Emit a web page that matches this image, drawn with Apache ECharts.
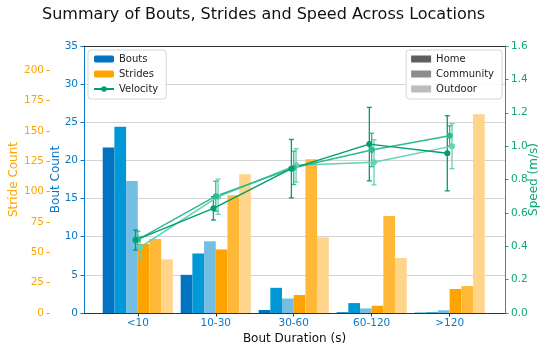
<!DOCTYPE html>
<html><head><meta charset="utf-8">
<script src="https://cdn.jsdelivr.net/npm/echarts@6/dist/echarts.min.js"></script>
<style>html,body{margin:0;padding:0;background:#fff}#c{width:550px;height:356px}</style>
</head><body><div id="c"></div>
<script>
const categories = ['<10', '10-30', '30-60', '60-120', '>120'];
const boutsHome = [21.7, 5.0, 0.4, 0.1, 0.05];
const boutsCommunity = [24.4, 7.8, 3.3, 1.3, 0.1];
const boutsOutdoor = [17.3, 9.4, 1.9, 0.6, 0.35];
const stridesHome = [56.8, 52.4, 14.8, 6, 19.8];
const stridesCommunity = [60.9, 97.1, 126.7, 80, 22.2];
const stridesOutdoor = [44.2, 114.4, 62.3, 45.3, 163.8];
const speedHome = [0.437, 0.627, 0.865, 1.012, 0.957];
const speedHomeErr = [0.06, 0.07, 0.175, 0.22, 0.225];
const speedCommunity = [0.44, 0.70, 0.87, 0.977, 1.062];
const speedCommunityErr = [0.05, 0.09, 0.1, 0.1, 0.06];
const speedOutdoor = [0.394, 0.697, 0.885, 0.903, 1.0];
const speedOutdoorErr = [0.065, 0.105, 0.1, 0.135, 0.135];
const boutTicks = [0, 5, 10, 15, 20, 25, 30, 35];
const strideTicks = [0, 25, 50, 75, 100, 125, 150, 175, 200];
const speedTicks = [0, 0.2, 0.4, 0.6, 0.8, 1.0, 1.2, 1.4, 1.6];

const FONT = 'DejaVu Sans';
const C_BOUT = '#0A78C2', C_STRIDE = '#FFA500', C_SPEED = '#0FA67A';
const BW = 0.15;

function barSeries(name, vals, offset, color, yIdx) {
  return {
    type: 'custom', name: name, xAxisIndex: 0, yAxisIndex: yIdx, z: 2,
    data: vals.map((v, i) => [i, v]),
    renderItem: function (params, api) {
      const x = api.value(0) + offset;
      const p0 = api.coord([x - BW / 2, api.value(1)]);
      const p1 = api.coord([x + BW / 2, 0]);
      return { type: 'rect', shape: { x: p0[0], y: p0[1], width: p1[0] - p0[0], height: p1[1] - p0[1] },
        style: { fill: color } };
    }
  };
}
function lineSeries(vals, offset, color) {
  return {
    type: 'line', xAxisIndex: 0, yAxisIndex: 2, z: 5,
    data: vals.map((v, i) => [i + offset, v]),
    symbol: 'circle', symbolSize: 6, showSymbol: true,
    lineStyle: { color: color, width: 1.5 }, itemStyle: { color: color },
    silent: true, animation: false
  };
}
function errSeries(vals, errs, offset, color) {
  return {
    type: 'custom', xAxisIndex: 0, yAxisIndex: 2, z: 4,
    data: vals.map((v, i) => [i + offset, v, errs[i]]),
    renderItem: function (params, api) {
      const x = api.value(0), m = api.value(1), e = api.value(2);
      const top = api.coord([x, m + e]), bot = api.coord([x, m - e]);
      const cw = 2.5;
      const st = { stroke: color, lineWidth: 1.3 };
      return { type: 'group', children: [
        { type: 'line', shape: { x1: top[0], y1: top[1], x2: bot[0], y2: bot[1] }, style: st },
        { type: 'line', shape: { x1: top[0] - cw, y1: top[1], x2: top[0] + cw, y2: top[1] }, style: st },
        { type: 'line', shape: { x1: bot[0] - cw, y1: bot[1], x2: bot[0] + cw, y2: bot[1] }, style: st }
      ]};
    }
  };
}

const chart = echarts.init(document.getElementById('c'), null, { renderer: 'canvas' });
const option = {
  animation: false,
  textStyle: { fontFamily: FONT },
  title: { text: 'Summary of Bouts, Strides and Speed Across Locations', left: 37, top: 2,
    textStyle: { fontFamily: FONT, fontSize: 16, fontWeight: 'normal', color: '#111' } },
  grid: { left: 84, right: 45, top: 46, bottom: 43, outerBoundsMode: 'none', containLabel: false },
  legend: [
    { data: ['Bouts', 'Strides', 'Velocity'], orient: 'vertical', left: 88, top: 50,
      selectedMode: false, itemWidth: 20, itemHeight: 7, itemGap: 3,
      padding: [3, 8, 4, 5], borderColor: '#d5d5d5', borderWidth: 1, borderRadius: 3,
      backgroundColor: 'rgba(255,255,255,0.85)',
      textStyle: { fontFamily: FONT, fontSize: 10, color: '#222', lineHeight: 12 } },
    { data: ['Home', 'Community', 'Outdoor'], orient: 'vertical', right: 48, top: 50,
      selectedMode: false, itemWidth: 20, itemHeight: 7, itemGap: 3, icon: 'rect',
      padding: [3, 8, 4, 5], borderColor: '#d5d5d5', borderWidth: 1, borderRadius: 3,
      backgroundColor: 'rgba(255,255,255,0.85)',
      textStyle: { fontFamily: FONT, fontSize: 10, color: '#222', lineHeight: 12 } }
  ],
  xAxis: [
    { type: 'value', min: -0.69, max: 4.71, position: 'bottom',
      name: 'Bout Duration (s)', nameLocation: 'middle', nameGap: 20, nameMoveOverlap: false,
      nameTextStyle: { fontFamily: FONT, fontSize: 12, color: '#111' },
      axisLine: { show: true, onZero: false, lineStyle: { color: '#333', width: 1 } },
      axisTick: { show: true, length: 3.5, customValues: [0, 1, 2, 3, 4], lineStyle: { color: '#333' } },
      axisLabel: { customValues: [0, 1, 2, 3, 4], formatter: v => categories[Math.round(v)] || '',
        color: C_BOUT, fontFamily: FONT, fontSize: 10.5, margin: 5 },
      splitLine: { show: false } },
    { type: 'value', min: -0.69, max: 4.71, position: 'top',
      axisLine: { show: true, onZero: false, lineStyle: { color: '#333', width: 1 } },
      axisTick: { show: false }, axisLabel: { show: false }, splitLine: { show: false } }
  ],
  yAxis: [
    { type: 'value', min: 0, max: 35, interval: 5, position: 'left', offset: 0,
      name: 'Bout Count', nameLocation: 'middle', nameGap: 22.5, nameRotate: 90, nameMoveOverlap: false,
      nameTextStyle: { fontFamily: FONT, fontSize: 12, color: C_BOUT },
      axisLine: { show: true, onZero: false, lineStyle: { color: C_BOUT, width: 1 } },
      axisTick: { show: true, length: 3.5, lineStyle: { color: C_BOUT } },
      axisLabel: { color: C_BOUT, fontFamily: FONT, fontSize: 10.5, margin: 6 },
      splitLine: { show: true, lineStyle: { color: '#d4d4d4', width: 1 } } },
    { type: 'value', min: 0, max: 220, position: 'left', offset: 34,
      name: 'Stride Count', nameLocation: 'middle', nameGap: 30.5, nameRotate: 90, nameMoveOverlap: false,
      nameTextStyle: { fontFamily: FONT, fontSize: 12, color: C_STRIDE },
      axisLine: { show: true, onZero: false, lineStyle: { color: C_STRIDE, opacity: 0 } },
      axisTick: { show: true, length: 3.5, customValues: strideTicks, lineStyle: { color: C_STRIDE } },
      axisLabel: { customValues: strideTicks, color: C_STRIDE, fontFamily: FONT, fontSize: 10.5, margin: 6 },
      splitLine: { show: false } },
    { type: 'value', min: 0, max: 1.6, interval: 0.2, position: 'right', offset: 0,
      name: 'Speed (m/s)', nameLocation: 'middle', nameGap: 23, nameRotate: 90, nameMoveOverlap: false,
      nameTextStyle: { fontFamily: FONT, fontSize: 12, color: C_SPEED },
      axisLine: { show: true, onZero: false, lineStyle: { color: C_SPEED, width: 1 } },
      axisTick: { show: true, length: 3.5, lineStyle: { color: C_SPEED } },
      axisLabel: { color: C_SPEED, fontFamily: FONT, fontSize: 10.5, margin: 6, formatter: v => v.toFixed(1) },
      splitLine: { show: false } }
  ],
  series: [
    barSeries('bh', boutsHome, -0.375, '#0173C0', 0),
    barSeries('bc', boutsCommunity, -0.225, '#0098D6', 0),
    barSeries('bo', boutsOutdoor, -0.075, '#74BEE3', 0),
    barSeries('sh', stridesHome, 0.075, '#FFA300', 1),
    barSeries('sc', stridesCommunity, 0.225, '#FFB838', 1),
    barSeries('so', stridesOutdoor, 0.375, '#FFD58C', 1),
    errSeries(speedOutdoor, speedOutdoorErr, 0.03, '#66D1B3'),
    errSeries(speedCommunity, speedCommunityErr, 0, '#2CBA90'),
    errSeries(speedHome, speedHomeErr, -0.03, '#009E73'),
    lineSeries(speedOutdoor, 0.03, '#66D1B3'),
    lineSeries(speedCommunity, 0, '#2CBA90'),
    lineSeries(speedHome, -0.03, '#009E73'),
    { type: 'bar', name: 'Bouts', data: [], itemStyle: { color: '#0173C0' } },
    { type: 'bar', name: 'Strides', data: [], itemStyle: { color: '#FFA500' } },
    { type: 'line', name: 'Velocity', data: [], symbol: 'circle', symbolSize: 6,
      lineStyle: { color: '#009E73', width: 1.5 }, itemStyle: { color: '#009E73' } },
    { type: 'bar', name: 'Home', data: [], itemStyle: { color: '#5f5f5f' } },
    { type: 'bar', name: 'Community', data: [], itemStyle: { color: '#8c8c8c' } },
    { type: 'bar', name: 'Outdoor', data: [], itemStyle: { color: '#bdbdbd' } }
  ]
};
chart.setOption(option);
</script></body></html>
